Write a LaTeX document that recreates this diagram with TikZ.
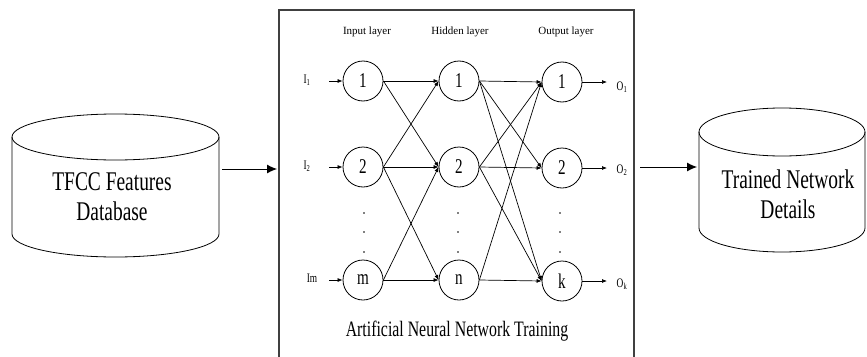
\documentclass[tikz,border=0pt]{standalone}
\usepackage{fontspec}
\setmainfont{Liberation Serif}
\newfontfamily\narrowfont[FakeStretch=0.72]{Liberation Serif}
\usetikzlibrary{arrows.meta}
\begin{document}
\begin{tikzpicture}[x=1pt,y=-1pt,
  neuron/.style={draw, circle, minimum size=40pt, inner sep=0pt, line width=0.8pt, font=\narrowfont\fontsize{21}{21}\selectfont},
  conn/.style={-{Latex[length=5pt,width=4pt]}, line width=0.7pt},
  bigarrow/.style={-{Latex[length=10pt,width=9pt]}, line width=0.9pt},
  layerlabel/.style={font=\fontsize{11}{13}\selectfont, inner sep=0pt},
  iolabel/.style={font=\narrowfont\fontsize{13}{13}\selectfont, inner sep=0pt},
  cyl/.style={line width=0.8pt},
  cyltext/.style={align=center, inner sep=0pt, font=\narrowfont\fontsize{27}{30}\selectfont},
  dotmark/.style={fill, circle, inner sep=0pt, minimum size=1.6pt},
  framebox/.style={line width=1.2pt, draw=black!75}
]
\useasboundingbox (0,0) rectangle (867,356);

% left database cylinder
\draw[cyl] (115.5,137) ellipse [x radius=103.5, y radius=23];
\draw[cyl] (12,137) -- (12,234) arc[start angle=180, end angle=0, x radius=103.5, y radius=23] -- (219,137);
\node[cyltext] (db) at (112,197) {TFCC Features\\Database};

% right database cylinder
\draw[cyl] (782,132) ellipse [x radius=83, y radius=24];
\draw[cyl] (699,132) -- (699,228) arc[start angle=180, end angle=0, x radius=83, y radius=24] -- (865,132);
\node[cyltext] (tn) at (788,194) {Trained Network\\Details};

% central frame
\draw[framebox] (279,360) -- (279,10) -- (634,10) -- (634,360);
\node[font=\narrowfont\fontsize{22}{24}\selectfont, inner sep=0pt] (title) at (457,331) {Artificial Neural Network Training};

% big arrows
\coordinate (dbE) at (222,169);
\coordinate (annW) at (277,169);
\coordinate (annE) at (640,167);
\coordinate (tnW) at (697,167);
\draw[bigarrow] (dbE) -- (annW);
\draw[bigarrow] (annE) -- (tnW);

% layer labels
\node[layerlabel] (lin) at (367,32) {Input layer};
\node[layerlabel] (lhid) at (460,32) {Hidden layer};
\node[layerlabel] (lout) at (566,32) {Output layer};

% neurons
\node[neuron] (i1) at (363,81) {1};
\node[neuron] (i2) at (363,167) {2};
\node[neuron] (im) at (363,280) {m};
\node[neuron] (h1) at (459,81) {1};
\node[neuron] (h2) at (459,167) {2};
\node[neuron] (hn) at (459,280) {n};
\node[neuron] (o1) at (562,82) {1};
\node[neuron] (o2) at (562,168) {2};
\node[neuron] (ok) at (562,281) {k};

% vertical dots
\foreach \x/\n in {364/a,458/b,560/c}{
  \node[dotmark] (d1\n) at (\x,213) {};
  \node[dotmark] (d2\n) at (\x,232) {};
  \node[dotmark] (d3\n) at (\x,252) {};
}

% input labels and arrows
\node[iolabel] (I1) at (307,80) {I\textsubscript{1}};
\node[iolabel] (I2) at (307,166) {I\textsubscript{2}};
\node[iolabel] (Im) at (312,278) {Im};
\coordinate (a1) at (329,81);
\coordinate (a2) at (329,167);
\coordinate (am) at (329,280);
\draw[conn] (a1) -- (i1);
\draw[conn] (a2) -- (i2);
\draw[conn] (am) -- (im);

% output labels and arrows
\node[iolabel] (O1) at (622,87) {O\textsubscript{1}};
\node[iolabel] (O2) at (622,170) {O\textsubscript{2}};
\node[iolabel] (Ok) at (622,284) {O\textsubscript{k}};
\coordinate (b1) at (607,82);
\coordinate (b2) at (607,168);
\coordinate (bk) at (607,281);
\draw[conn] (o1) -- (b1);
\draw[conn] (o2) -- (b2);
\draw[conn] (ok) -- (bk);

% input -> hidden
\draw[conn] (i1.east) -- (h1.west);
\draw[conn] (i1.east) -- (h2.west);
\draw[conn] (i2.east) -- (h1.west);
\draw[conn] (i2.east) -- (h2.west);
\draw[conn] (i2.east) -- (hn.west);
\draw[conn] (im.east) -- (h2.west);
\draw[conn] (im.east) -- (hn.west);

% hidden -> output
\draw[conn] (h1.east) -- (o1.west);
\draw[conn] (h1.east) -- (o2.west);
\draw[conn] (h1.east) -- (ok.west);
\draw[conn] (h2.east) -- (o1.west);
\draw[conn] (h2.east) -- (o2.west);
\draw[conn] (h2.east) -- (ok.west);
\draw[conn] (hn.east) -- (o1.west);
\draw[conn] (hn.east) -- (ok.west);
\end{tikzpicture}
\end{document}
